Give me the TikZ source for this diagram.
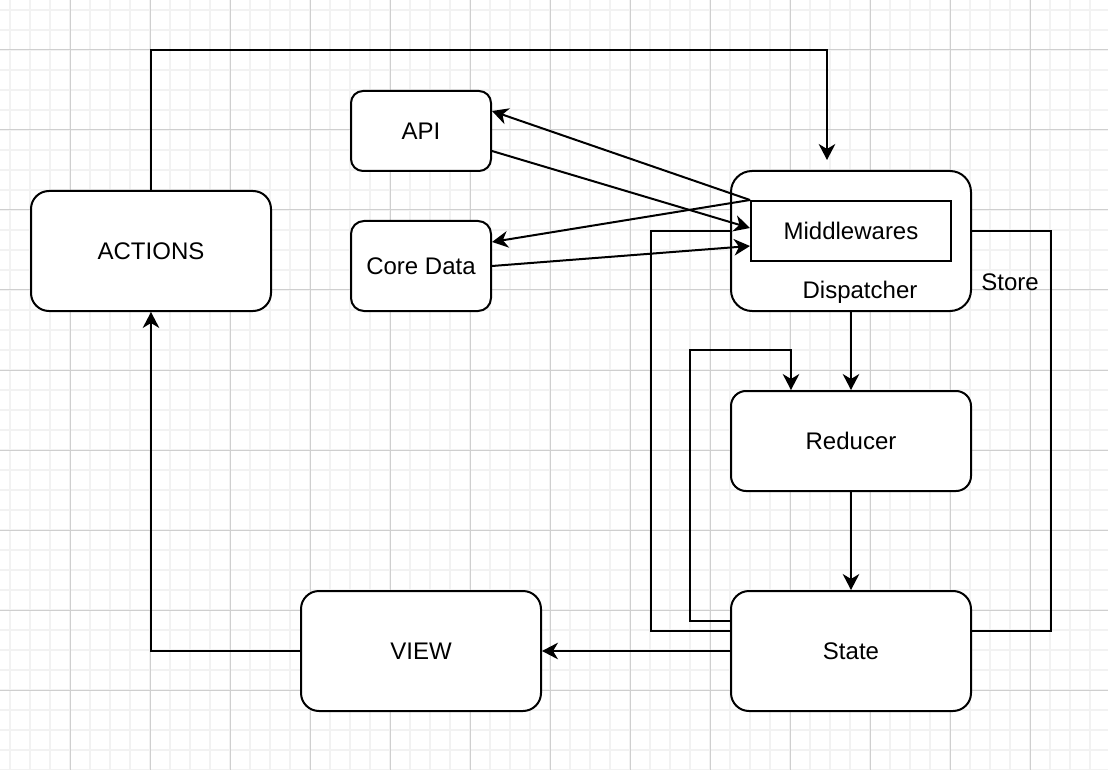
\documentclass[tikz,border=0pt]{standalone}
\usepackage{fontspec}
\setmainfont{Liberation Sans}
\usetikzlibrary{arrows.meta}
\definecolor{gminor}{HTML}{F2F2F2}
\definecolor{gmajor}{HTML}{CFCFCF}
\begin{document}
\begin{tikzpicture}[x=0.5pt,y=-0.5pt,
  box/.style={draw, line width=1pt, fill=white, inner sep=0pt, font=\fontsize{12}{14}\selectfont},
  conn/.style={line width=1pt, -{Stealth[length=8pt,width=8.3pt,inset=2.5pt]}},
  plain/.style={line width=1pt},
  lbl/.style={font=\fontsize{12}{14}\selectfont, inner sep=0pt},
  gridminor/.style={gminor, line width=1pt},
  gridmajor/.style={gmajor, line width=0.5pt}]
\useasboundingbox (0,0) rectangle (1108,770);
\fill[white] (0,0) rectangle (1108,770);
% grid
\foreach \x in {10,30,...,1108} \draw[gridminor] (\x,0) -- (\x,770);
\foreach \y in {10,30,...,770} \draw[gridminor] (0,\y) -- (1108,\y);
\foreach \x in {70,150,...,1108} \draw[gridmajor] (\x,0) -- (\x,770);
\foreach \y in {50,130,...,770} \draw[gridmajor] (0,\y) -- (1108,\y);
% store outline
\node[draw, line width=1pt, inner sep=0pt, minimum width=200pt, minimum height=200pt] (store) at (851,431) {};
\node[lbl] (storelbl) at (1010,282) {Store};
% nodes
\node[box, rounded corners=9pt, minimum width=120pt, minimum height=60pt] (actions) at (151,251) {ACTIONS};
\node[box, rounded corners=6pt, minimum width=70pt, minimum height=40pt] (api) at (421,131) {API};
\node[box, rounded corners=6.5pt, minimum width=70pt, minimum height=45pt] (core) at (421,266) {Core Data};
\node[box, rounded corners=10.5pt, minimum width=120pt, minimum height=70pt] (disp) at (851,241) {};
\node[box, minimum width=100pt, minimum height=30pt] (mw) at (851,231) {Middlewares};
\node[lbl] (displbl) at (860,292) {Dispatcher};
\node[box, rounded corners=7.5pt, minimum width=120pt, minimum height=50pt] (red) at (851,441) {Reducer};
\node[box, rounded corners=9pt, minimum width=120pt, minimum height=60pt] (state) at (851,651) {State};
\node[box, rounded corners=9pt, minimum width=120pt, minimum height=60pt] (view) at (421,651) {VIEW};
\coordinate (topend) at (827,160);
% connectors
\draw[conn] (actions.north) -- ++(0,-140) -| (topend);
\draw[conn] ([yshift=-10pt]api.east) -- ([yshift=1.5pt]mw.west);
\draw[conn] (mw.north west) -- ([yshift=10pt]api.east);
\draw[conn] (mw.north west) -- ([yshift=12pt]core.east);
\draw[conn] (core.east) -- ([yshift=-7.5pt]mw.west);
\draw[conn] (disp.south) -- (red.north);
\draw[conn] (red.south) -- (state.north);
\draw[conn] ([yshift=15pt]state.west) -- ++(-40,0) |- ([xshift=-30pt,yshift=20pt]red.north) -- ([xshift=-30pt]red.north);
\draw[conn] (state.west) -- (view.east);
\draw[conn] (view.west) -| (actions.south);
\end{tikzpicture}
\end{document}
